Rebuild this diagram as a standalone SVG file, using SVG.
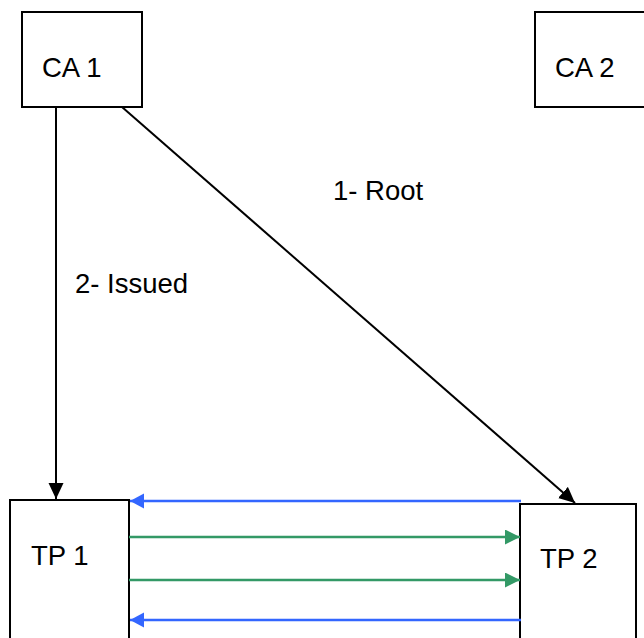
<svg xmlns="http://www.w3.org/2000/svg" width="644" height="638" viewBox="0 0 644 638">
<style>
.box{fill:#fff;stroke:#000;stroke-width:2}
.lbl{font-family:"Liberation Sans",Arial,sans-serif;font-size:27.5px;fill:#000}
.blk{stroke:#000;stroke-width:2;fill:none}
.blu{stroke:#3366FF;stroke-width:2.5;fill:none}
.grn{stroke:#339966;stroke-width:2.5;fill:none}
</style>
<defs>
<marker id="ab" markerUnits="userSpaceOnUse" markerWidth="18" markerHeight="16" refX="16" refY="7.5" orient="auto">
<path d="M0,0 L16,7.5 L0,15 Z" fill="#000"/>
</marker>
<marker id="au" markerUnits="userSpaceOnUse" markerWidth="18" markerHeight="16" refX="14" refY="7.5" orient="auto">
<path d="M0,0 L14,7.5 L0,15 Z" fill="#3366FF"/>
</marker>
<marker id="ag" markerUnits="userSpaceOnUse" markerWidth="18" markerHeight="16" refX="15" refY="7.5" orient="auto">
<path d="M0,0 L15,7.5 L0,15 Z" fill="#339966"/>
</marker>
</defs>
<g id="ca1"><rect class="box" x="22" y="12" width="120" height="95"/><text class="lbl" x="42" y="77">CA 1</text></g>
<g id="ca2"><rect class="box" x="535" y="12" width="112" height="95"/><text class="lbl" x="555" y="77">CA 2</text></g>
<g id="tp1"><rect class="box" x="10" y="500" width="119" height="145"/><text class="lbl" x="31" y="565">TP 1</text></g>
<g id="tp2"><rect class="box" x="520" y="504" width="116" height="145"/><text class="lbl" x="540" y="568">TP 2</text></g>
<g id="connectors">
<line class="blk" x1="56" y1="107" x2="56" y2="499" marker-end="url(#ab)"/>
<line class="blk" x1="122" y1="107" x2="575" y2="503" marker-end="url(#ab)"/>
<line class="blu" x1="521" y1="501" x2="130" y2="501" marker-end="url(#au)"/>
<line class="grn" x1="129" y1="537" x2="520" y2="537" marker-end="url(#ag)"/>
<line class="grn" x1="129" y1="580" x2="520" y2="580" marker-end="url(#ag)"/>
<line class="blu" x1="521" y1="620" x2="130" y2="620" marker-end="url(#au)"/>
</g>
<g id="labels">
<text class="lbl" x="333" y="200">1- Root</text>
<text class="lbl" x="75" y="293">2- Issued</text>
</g>
</svg>
